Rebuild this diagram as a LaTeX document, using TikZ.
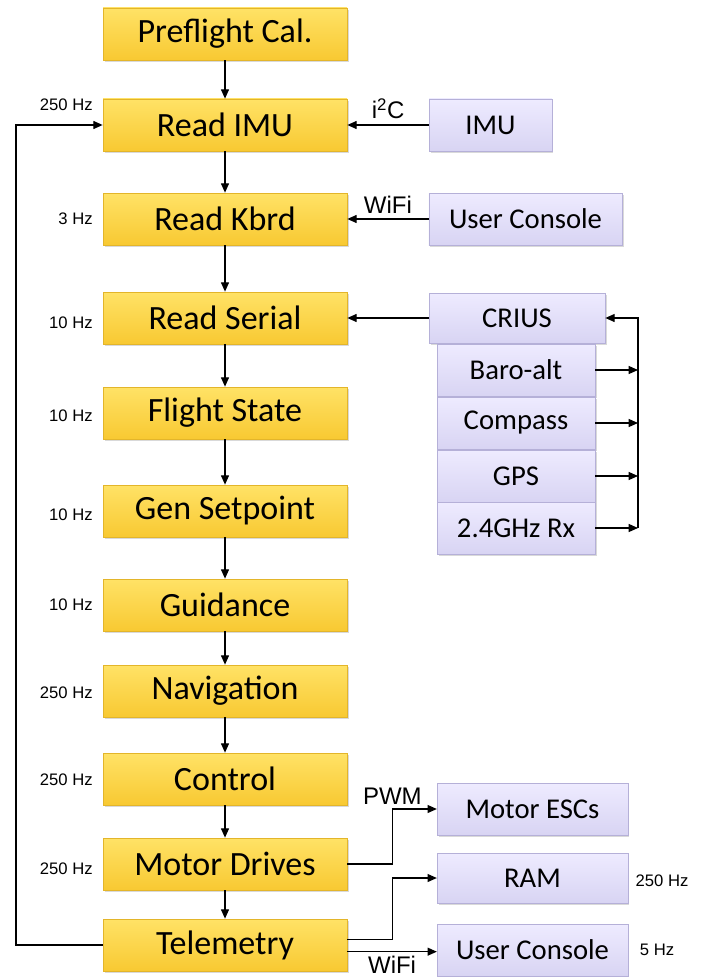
\documentclass[tikz,border=0pt]{standalone}
\usepackage{fontspec}
\setmainfont{Carlito}
\newfontfamily\arialfont{Liberation Sans}
\usetikzlibrary{arrows.meta, positioning, shadows}

\definecolor{goldtop}{HTML}{FFE266}
\definecolor{goldbot}{HTML}{F8C932}
\definecolor{goldedge}{HTML}{E3B52A}
\definecolor{lavtop}{HTML}{EEEBFF}
\definecolor{lavbot}{HTML}{D8D4F3}
\definecolor{lavedge}{HTML}{B5B0D8}

\begin{document}
\begin{tikzpicture}[x=0.75pt, y=-0.75pt, every node/.style={inner sep=0pt},
    task/.style={rectangle, draw=goldedge, line width=0.5pt, top color=goldtop, bottom color=goldbot,
        minimum width=183pt, minimum height=39pt, font=\fontsize{25.5}{29}\selectfont,
        drop shadow={opacity=0.3, shadow xshift=1.2pt, shadow yshift=-1.5pt}},
    device/.style={rectangle, draw=lavedge, line width=0.5pt, top color=lavtop, bottom color=lavbot,
        minimum height=39pt, font=\fontsize{21.5}{25}\selectfont,
        drop shadow={opacity=0.3, shadow xshift=1.2pt, shadow yshift=-1.5pt}},
    rate/.style={font=\arialfont\fontsize{12.5}{14}\selectfont},
    link/.style={font=\arialfont\fontsize{18}{20}\selectfont},
    flow/.style={-{Triangle[length=7pt,width=6pt]}, line width=0.9pt},
    ]

\useasboundingbox (0,0) rectangle (707,977);

% main loop
\node[task] (prefl)  at (225,34)  {Preflight Cal.};
\node[task] (rimu)   at (225,125) {Read IMU};
\node[task] (rkbd)   at (225,219) {Read Kbrd};
\node[task] (rser)   at (225,318) {Read Serial};
\node[task] (fstate) at (225,413) {Flight State};
\node[task] (gset)   at (225,511) {Gen Setpoint};
\node[task] (guid)   at (225,605) {Guidance};
\node[task] (nav)    at (225,691) {Navigation};
\node[task] (ctrl)   at (225,779) {Control};
\node[task] (mdrv)   at (225,864) {Motor Drives};
\node[task] (telem)  at (225,945) {Telemetry};

% rates
\node[rate, anchor=east] (hzimu)   at (93,105) {250 Hz};
\node[rate, anchor=east] (hzkbd)   at (93,219) {3 Hz};
\node[rate, anchor=east] (hzser)   at (93,323) {10 Hz};
\node[rate, anchor=east] (hzstate) at (93,416) {10 Hz};
\node[rate, anchor=east] (hzset)   at (93,515) {10 Hz};
\node[rate, anchor=east] (hzguid)  at (93,605) {10 Hz};
\node[rate, anchor=east] (hznav)   at (93,693) {250 Hz};
\node[rate, anchor=east] (hzctrl)  at (93,780) {250 Hz};
\node[rate, anchor=east] (hzdrv)   at (93,869) {250 Hz};

% devices
\node[device, minimum width=92pt]  (imu)    at (490.5,125) {IMU};
\node[device, minimum width=145pt] (ucin)   at (525.5,219) {User Console};
\node[device, minimum width=132pt, minimum height=37.5pt] (crius) at (517,318) {CRIUS};
\node[device, minimum width=118.5pt] (baro)    at (516,370) {Baro-alt};
\node[device, minimum width=118.5pt] (compass) at (516,423) {Compass};
\node[device, minimum width=118.5pt] (gps)     at (516,476) {GPS};
\node[device, minimum width=118.5pt] (rx)      at (516,528) {2.4GHz Rx};
\node[device, minimum width=143pt] (esc)    at (532.5,809) {Motor ESCs};
\node[device, minimum width=143pt, minimum height=37.5pt] (ram) at (532.5,878) {RAM};
\node[device, minimum width=143pt] (ucout)  at (532.5,950) {User Console};

\node[rate] (hzram) at (662,881) {250 Hz};
\node[rate] (hzout) at (657,950) {5 Hz};

% arrows
\draw[flow] (prefl) -- (rimu);
\draw[flow] (rimu) -- (rkbd);
\draw[flow] (rkbd) -- (rser);
\draw[flow] (rser) -- (fstate);
\draw[flow] (fstate) -- (gset);
\draw[flow] (gset) -- (guid);
\draw[flow] (guid) -- (nav);
\draw[flow] (nav) -- (ctrl);
\draw[flow] (ctrl) -- (mdrv);
\draw[flow] (mdrv) -- (telem);

\draw[flow] (imu) -- node[link, above=4pt] {i\textsuperscript{2}C} (rimu);
\draw[flow] (ucin) -- node[link, above=4pt] {WiFi} (rkbd);
\draw[flow] (crius) -- (rser);

\coordinate (bus) at (638,528);
\draw[flow] (bus) |- (crius.east);
\foreach \dev in {baro, compass, gps, rx}
    \draw[flow] (\dev.east) -- (\dev.east -| bus);

\coordinate (fb) at (16,945);
\draw[flow] (telem.west) -- (fb) |- (rimu.west);

\draw[flow] (mdrv.east) -- ++(45,0) |- node[link, pos=0.5, above=3pt] {PWM} (esc.west);
\draw[flow] ([yshift=4pt]telem.east) -- ++(45,0) |- (ram.west);
\draw[flow] ([yshift=-5pt]telem.east) -- node[link, below=3pt] {WiFi} ([yshift=-5pt]telem.east -| ucout.west);
\end{tikzpicture}
\end{document}
